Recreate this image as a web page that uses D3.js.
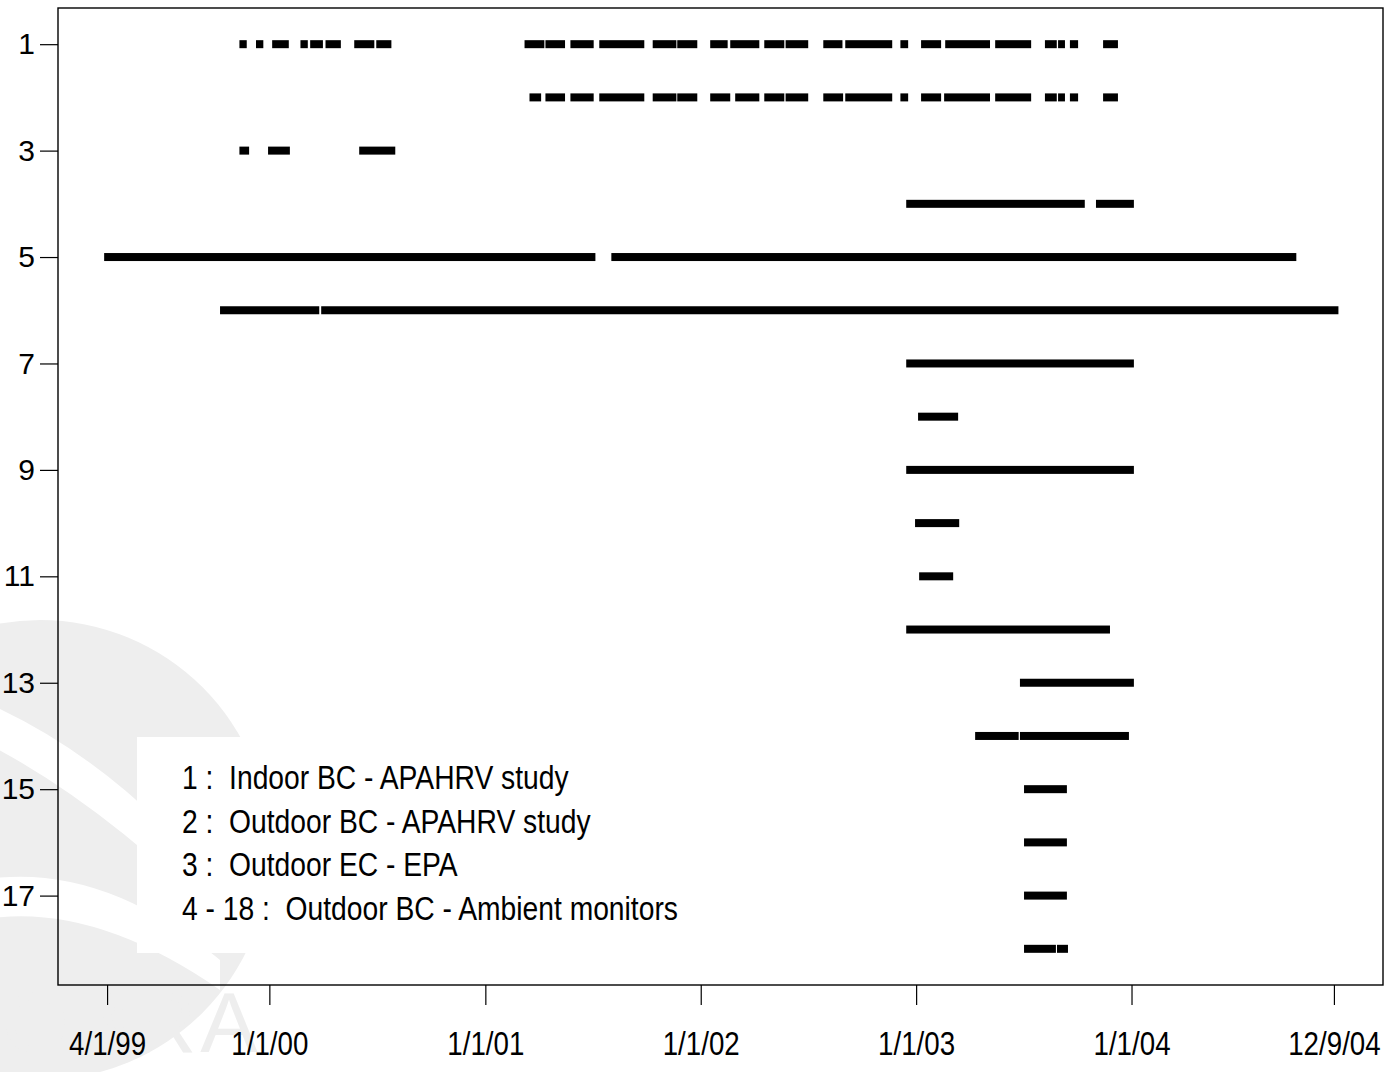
<!DOCTYPE html>
<html>
<head>
<meta charset="utf-8">
<script src="https://cdn.jsdelivr.net/npm/d3@7"></script>
<style>
  body { margin: 0; background: #fff; }
  text { white-space: pre; }
</style>
</head>
<body>
<script>
// periods with data, in decimal years, one array per monitor row
const row1 = [[1999.861,1999.895],[1999.938,1999.972],[2000.013,2000.090],[2000.144,2000.178],
  [2000.189,2000.248],[2000.260,2000.331],[2000.393,2000.486],[2000.495,2000.565],
  [2001.182,2001.274],[2001.279,2001.370],[2001.395,2001.503],[2001.529,2001.738],
  [2001.777,2001.887],[2001.891,2001.984],[2002.044,2002.125],[2002.137,2002.272],
  [2002.295,2002.388],[2002.394,2002.499],[2002.569,2002.658],[2002.671,2002.889],
  [2002.927,2002.963],[2003.023,2003.116],[2003.135,2003.343],[2003.367,2003.534],
  [2003.598,2003.653],[2003.659,2003.691],[2003.714,2003.752],[2003.868,2003.937]]
const row2 = [[2001.205,2001.259],[2001.279,2001.370],[2001.395,2001.503],[2001.529,2001.738],
  [2001.777,2001.887],[2001.891,2001.984],[2002.044,2002.137],[2002.160,2002.272],
  [2002.295,2002.388],[2002.394,2002.499],[2002.569,2002.661],[2002.671,2002.889],
  [2002.927,2002.963],[2003.023,2003.116],[2003.130,2003.343],[2003.367,2003.534],
  [2003.598,2003.653],[2003.659,2003.691],[2003.714,2003.752],[2003.868,2003.937]]
const row3 = [[1999.861,1999.906],[1999.994,2000.095],[2000.416,2000.583]]
const ambient = [
  [[2002.954,2003.783],[2003.835,2004.011]],          // 4
  [[1999.233,2001.511],[2001.585,2004.763]],          // 5
  [[1999.771,2000.231],[2000.240,2004.958]],          // 6
  [[2002.954,2004.011]],                              // 7
  [[2003.009,2003.195]],                              // 8
  [[2002.954,2004.011]],                              // 9
  [[2002.995,2003.200]],                              // 10
  [[2003.014,2003.172]],                              // 11
  [[2002.954,2003.900]],                              // 12
  [[2003.482,2004.011]],                              // 13
  [[2003.274,2003.476],[2003.482,2003.988]],          // 14
  [[2003.501,2003.700]],                              // 15
  [[2003.501,2003.700]],                              // 16
  [[2003.501,2003.700]],                              // 17
  [[2003.501,2003.649],[2003.654,2003.705]]           // 18
]

const xTickDates = ['1999-04-01','2000-01-01','2001-01-01','2002-01-01','2003-01-01','2004-01-01','2004-12-09']
const xTickLabels = ['4/1/99','1/1/00','1/1/01','1/1/02','1/1/03','1/1/04','12/9/04']
const yTicks = [1,3,5,7,9,11,13,15,17]
const legendLines = ['1 :  Indoor BC - APAHRV study', '2 :  Outdoor BC - APAHRV study',
  '3 :  Outdoor EC - EPA', '4 - 18 :  Outdoor BC - Ambient monitors']

width = 1394
height = 1072
const FONT = 'Liberation Sans, Arial, sans-serif'

function yearToDate(y) {
    const yr = Math.floor(y)
    const a = new Date(yr, 0, 1), b = new Date(yr + 1, 0, 1)
    return new Date(+a + (y - yr) * (b - a))
}

const parse = d3.timeParse('%Y-%m-%d')
const tickDates = xTickDates.map(parse)

svg = d3.select('body')
    .append('svg')
    .attr('width', width)
    .attr('height', height)

// faint watermark behind the plot
const wm = svg.append('g').attr('fill', '#eeeeee')
wm.append('circle').attr('cx', 40).attr('cy', 850).attr('r', 230)
wm.append('path')
    .attr('d', 'M -20 700 Q 120 760 230 900 L 230 930 Q 100 800 -20 740 Z')
    .attr('fill', '#fff')
wm.append('path')
    .attr('d', 'M -20 880 Q 100 860 220 960 L 220 990 Q 90 900 -20 920 Z')
    .attr('fill', '#fff')
wm.append('text')
    .attr('x', 2).attr('y', 1052)
    .attr('font-family', FONT)
    .attr('font-size', 86)
    .attr('letter-spacing', 4)
    .text('OBRA')

// data range 4/1/99 .. 12/9/04, padded 4% each side
const d0 = tickDates[0], d1 = tickDates[tickDates.length - 1]
const pad = (d1 - d0) * 0.04
const x = d3.scaleTime()
    .domain([new Date(+d0 - pad), new Date(+d1 + pad)])
    .range([58, 1383])

const y = d3.scaleLinear()
    .domain([1 - 17 * 0.04, 18 + 17 * 0.04])
    .range([8, 985])

// legend box (white, hides watermark)
svg.append('rect')
    .attr('x', 137).attr('y', 737)
    .attr('width', 560).attr('height', 216)
    .attr('fill', '#fff')

svg.append('rect')
    .attr('x', 58).attr('y', 8)
    .attr('width', 1325).attr('height', 977)
    .attr('fill', 'none')
    .attr('stroke', '#000')
    .attr('stroke-width', 1.4)

const rows = [row1, row2, row3].concat(ambient)
const segs = []
rows.forEach(function(r, i) {
    r.forEach(function(s) { segs.push({row: i + 1, a: s[0], b: s[1]}) })
})

svg.append('g').selectAll('rect')
    .data(segs)
    .enter()
    .append('rect')
    .attr('x', d => x(yearToDate(d.a)))
    .attr('width', d => x(yearToDate(d.b)) - x(yearToDate(d.a)))
    .attr('y', d => y(d.row) - 4)
    .attr('height', 8)
    .attr('fill', '#000')

const yAxis = svg.append('g')
    .attr('transform', 'translate(58,0)')
    .call(d3.axisLeft(y).tickValues(yTicks).tickSize(18).tickPadding(5))
yAxis.select('.domain').remove()
yAxis.selectAll('text')
    .attr('font-family', FONT)
    .attr('font-size', 30)
    .attr('fill', '#000')
yAxis.selectAll('line').attr('stroke', '#000').attr('stroke-width', 1.2)

const xAxis = svg.append('g')
    .attr('transform', 'translate(0,985)')
    .call(d3.axisBottom(x).tickValues(tickDates)
        .tickFormat((d, i) => xTickLabels[i]).tickSize(20).tickPadding(27))
xAxis.select('.domain').remove()
xAxis.selectAll('text')
    .attr('font-family', FONT)
    .attr('font-size', 33)
    .attr('fill', '#000')
    .attr('transform', 'scale(0.84,1)')
xAxis.selectAll('line').attr('stroke', '#000').attr('stroke-width', 1.2)

svg.append('g').selectAll('g')
    .data(legendLines)
    .enter()
    .append('g')
    .attr('transform', (d, i) => 'translate(182,' + (777 + i * 43.7) + ')')
    .append('text')
    .attr('dy', '0.36em')
    .attr('transform', 'scale(0.856,1)')
    .attr('font-family', FONT)
    .attr('font-size', 33)
    .text(d => d)
</script>
</body>
</html>
